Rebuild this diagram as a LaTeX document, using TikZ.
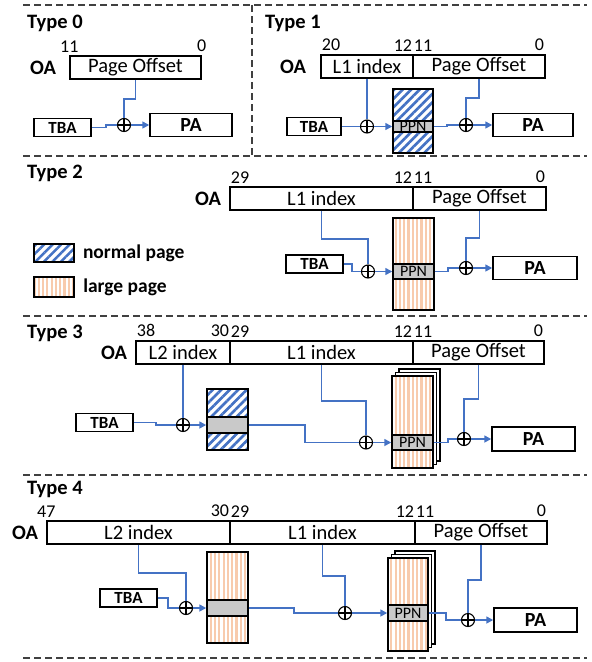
\documentclass[tikz,border=0pt]{standalone}
\usepackage{fontspec}
\setmainfont{Carlito}
\usepackage{tikz}
\usetikzlibrary{positioning,arrows.meta,patterns.meta}
\definecolor{ptblue}{HTML}{4472C4}
\definecolor{ptorange}{HTML}{F8CBAD}
\definecolor{ptgrey}{HTML}{C9C9C9}
\definecolor{ptdash}{HTML}{404040}

\begin{document}
\begin{tikzpicture}[x=1pt,y=-1pt,
  field/.style={rectangle,draw,line width=1.5pt,minimum height=23,inner sep=0,font=\fontsize{20.5}{22}\selectfont},
  bit/.style={inner xsep=1.5pt,inner ysep=3pt,font=\fontsize{18}{20}\selectfont},
  oa/.style={inner sep=0,font=\fontsize{20.5}{22}\selectfont\bfseries},
  title/.style={anchor=west,inner sep=0,font=\fontsize{20.5}{22}\selectfont\bfseries},
  tba/.style={rectangle,draw,line width=1.5pt,minimum width=57,minimum height=18,inner sep=0,font=\fontsize{17}{19}\selectfont\bfseries},
  pa/.style={rectangle,draw,line width=1.5pt,minimum width=83,minimum height=23,inner sep=0,font=\fontsize{20}{22}\selectfont\bfseries},
  xor/.style={circle,draw,line width=1.1pt,fill=white,minimum size=13,inner sep=0,
    path picture={\draw[line width=1.1pt] (path picture bounding box.north) -- (path picture bounding box.south)
      (path picture bounding box.west) -- (path picture bounding box.east);}},
  normalpg/.style={rectangle,draw,line width=1.6pt,minimum width=41,inner sep=0,preaction={fill=white},
    pattern={Lines[angle=45,distance=6pt,line width=2.6pt]},pattern color=ptblue},
  largepg/.style={rectangle,draw,line width=1.6pt,minimum width=41,inner sep=0,preaction={fill=white},
    pattern={Lines[angle=90,distance=4.3pt,line width=2.2pt]},pattern color=ptorange},
  backpg/.style={rectangle,draw,line width=1.6pt,fill=white,minimum width=41,inner sep=0},
  ppn/.style={rectangle,draw,line width=1.5pt,fill=ptgrey,minimum width=41,inner sep=0,font=\fontsize{16}{18}\selectfont},
  keytext/.style={inner sep=0,font=\fontsize{19.5}{21}\selectfont\bfseries},
  wire/.style={draw=ptblue,line width=1.6pt},
  feed/.style={wire,-{Triangle[length=7pt,width=7pt]}},
  sep/.style={draw=ptdash,line width=1.3pt,dash pattern=on 7pt off 4pt},
]
\useasboundingbox (0,0) rectangle (592,662);

% separators
\draw[sep] (23,5) -- (587,5);
\draw[sep] (252,5) -- (252,156);
\draw[sep] (23,156) -- (587,156);
\draw[sep] (23,316) -- (587,316);
\draw[sep] (23,475) -- (587,475);
\draw[sep] (23,658) -- (587,658);

% Type 0
\node[title] (hd0) at (27,23) {Type 0};
\node[field,minimum width=131] (po0) at (135.5,67.5) {Page Offset};
\node[bit,anchor=south] at (po0.north west) {11};
\node[bit,anchor=south] at (po0.north east) {0};
\node[oa,left=13pt of po0] (oa0) {OA};
\node[tba] (tba0) at (62.5,127.5) {TBA};
\node[xor] (x0) at (124,125) {};
\node[pa,minimum width=82] (pa0) at (191,125) {PA};
\draw[wire] (po0.south) -- ++(0,19) -| (x0.north);
\draw[wire] (tba0.east) -- ++(14,0) |- (x0.west);
\draw[feed] (x0.east) -- (pa0.west);

% Type 1
\node[title] (hd1) at (265,23) {Type 1};
\node[field,minimum width=92] (l11) at (367,66.5) {L1 index};
\node[field,minimum width=132] (po1) at (479,66.5) {Page Offset};
\node[bit,anchor=south west] at (l11.north west) {20};
\node[bit,anchor=south east] at (l11.north east) {12};
\node[bit,anchor=south west] at (po1.north west) {11};
\node[bit,anchor=south east] at (po1.north east) {0};
\node[oa,left=14pt of l11] (oa1) {OA};
\node[tba,minimum width=54] (tba1) at (314,126.5) {TBA};
\node[xor] (x1) at (367,126.5) {};
\node[normalpg,minimum width=40,minimum height=64] (pg1) at (413,121) {};
\node[ppn,minimum width=40,minimum height=11] (ppn1) at (413,126.5) {PPN};
\node[xor] (x1b) at (466,125) {};
\node[pa,minimum width=80] (pa1) at (533,125) {PA};
\draw[wire] (l11.south) -- (x1.north);
\draw[wire] (tba1.east) -- (x1.west);
\draw[feed] (x1.east) -- (ppn1.west);
\draw[wire] (ppn1.east) -- ++(13,0) |- (x1b.west);
\draw[wire] (po1.south) -- ++(0,19) -| (x1b.north);
\draw[feed] (x1b.east) -- (pa1.west);

% Type 2
\node[title] (hd2) at (27,173) {Type 2};
\node[field,minimum width=183] (l12) at (321.5,198.5) {L1 index};
\node[field,minimum width=133] (po2) at (479.5,198.5) {Page Offset};
\node[bit,anchor=south west] at (l12.north west) {29};
\node[bit,anchor=south east] at (l12.north east) {12};
\node[bit,anchor=south west] at (po2.north west) {11};
\node[bit,anchor=south east] at (po2.north east) {0};
\node[oa,left=8pt of l12] (oa2) {OA};
\node[normalpg,minimum width=40,minimum height=18] (keyn) at (54,253) {};
\node[keytext,right=8pt of keyn] (keyntext) {normal page};
\node[largepg,minimum width=40,minimum height=20] (keyl) at (54,287) {};
\node[keytext,right=8pt of keyl] (keyltext) {large page};
\node[tba] (tba2) at (314.5,264) {TBA};
\node[xor] (x2) at (368,271.5) {};
\node[largepg,minimum height=92] (pg2) at (413.5,264) {};
\node[ppn,minimum height=15] (ppn2) at (413.5,271.5) {PPN};
\node[xor] (x2b) at (466,268) {};
\node[pa,minimum width=84] (pa2) at (535,268) {PA};
\draw[wire] (l12.south) -- ++(0,28) -| (x2.north);
\draw[wire] (tba2.east) -- ++(8,0) |- (x2.west);
\draw[feed] (x2.east) -- (ppn2.west);
\draw[wire] (ppn2.east) -- ++(13,0) |- (x2b.west);
\draw[wire] (po2.south) -- ++(0,27) -| (x2b.north);
\draw[feed] (x2b.east) -- (pa2.west);

% Type 3
\node[title] (hd3) at (27,333) {Type 3};
\node[field,minimum width=94] (l23) at (183,352.5) {L2 index};
\node[field,minimum width=183] (l13) at (321.5,352.5) {L1 index};
\node[field,minimum width=131] (po3) at (478.5,352.5) {Page Offset};
\node[bit,anchor=south west] at (l23.north west) {38};
\node[bit,anchor=south east] at (l23.north east) {30};
\node[bit,anchor=south west] at (l13.north west) {29};
\node[bit,anchor=south east] at (l13.north east) {12};
\node[bit,anchor=south west] at (po3.north west) {11};
\node[bit,anchor=south east] at (po3.north east) {0};
\node[oa,left=8pt of l23] (oa3) {OA};
\node[tba] (tba3) at (104.5,422.5) {TBA};
\node[xor] (x3) at (183,425) {};
\node[normalpg,minimum height=61] (pg3) at (227.5,419.5) {};
\node[ppn,minimum height=16] (mid3) at (227.5,425) {};
\node[xor] (x3b) at (366,442.5) {};
\foreach \k in {2,1}
  \node[backpg,minimum height=92] at (412.5+3.5*\k,422-3.5*\k) {};
\node[largepg,minimum height=92] (pg3b) at (412.5,422) {};
\node[ppn,minimum height=15] (ppn3) at (412.5,442.5) {PPN};
\node[xor] (x3c) at (464,439) {};
\node[pa,minimum width=83,minimum height=24] (pa3) at (533.5,439) {PA};
\draw[wire] (l23.south) -- (x3.north);
\draw[wire] (tba3.east) -- ++(22,0) |- (x3.west);
\draw[feed] (x3.east) -- (mid3.west);
\draw[wire] (mid3.east) -- ++(56,0) |- (x3b.west);
\draw[wire] (l13.south) -- ++(0,36) -| (x3b.north);
\draw[feed] (x3b.east) -- (ppn3.west);
\draw[wire] (ppn3.east) -- ++(14,0) |- (x3c.west);
\draw[wire] (po3.south) -- ++(0,34) -| (x3c.north);
\draw[feed] (x3c.east) -- (pa3.west);

% Type 4
\node[title] (hd4) at (27,489) {Type 4};
\node[field,minimum width=183] (l24) at (138.5,532.5) {L2 index};
\node[field,minimum width=185] (l14) at (322.5,532.5) {L1 index};
\node[field,minimum width=132] (po4) at (481,532.5) {Page Offset};
\node[bit,anchor=south] at (l24.north west) {47};
\node[bit,anchor=south east] at (l24.north east) {30};
\node[bit,anchor=south west] at (l14.north west) {29};
\node[bit,anchor=south east] at (l14.north east) {12};
\node[bit,anchor=south west] at (po4.north west) {11};
\node[bit,anchor=south east] at (po4.north east) {0};
\node[oa,left=8pt of l24] (oa4) {OA};
\node[tba] (tba4) at (128.5,598) {TBA};
\node[xor] (x4) at (186,608) {};
\node[largepg,minimum height=91] (pg4) at (227.5,597.5) {};
\node[ppn,minimum height=16] (mid4) at (227.5,608) {};
\node[xor] (x4b) at (345,613) {};
\foreach \k in {2,1}
  \node[backpg,minimum width=40,minimum height=93] at (408+3.5*\k,604.5-3.5*\k) {};
\node[largepg,minimum width=40,minimum height=93] (pg4b) at (408,604.5) {};
\node[ppn,minimum width=40,minimum height=16] (ppn4) at (408,613) {PPN};
\node[xor] (x4c) at (468,620) {};
\node[pa,minimum width=83,minimum height=24] (pa4) at (535.5,620) {PA};
\draw[wire] (l24.south) -- ++(0,28) -| (x4.north);
\draw[wire] (tba4.east) -- ++(10,0) |- (x4.west);
\draw[feed] (x4.east) -- (mid4.west);
\draw[wire] (mid4.east) -- ++(45,0) |- (x4b.west);
\draw[wire] (l14.south) -- ++(0,31) -| (x4b.north);
\draw[feed] (x4b.east) -- (ppn4.west);
\draw[wire] (ppn4.east) -- ++(17,0) |- (x4c.west);
\draw[wire] (po4.south) -- ++(0,35) -| (x4c.north);
\draw[feed] (x4c.east) -- (pa4.west);
\end{tikzpicture}
\end{document}
